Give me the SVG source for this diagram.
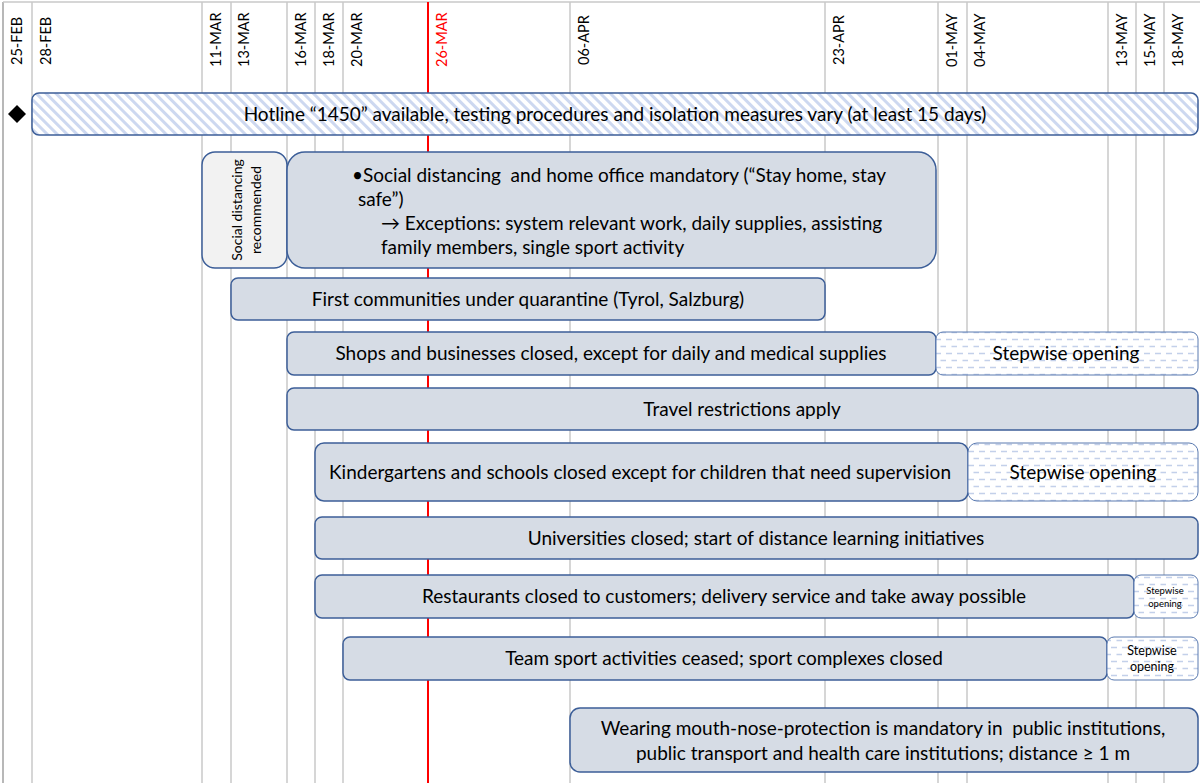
<svg xmlns="http://www.w3.org/2000/svg" width="1200" height="783" viewBox="0 0 1200 783">
<style>
.grid{stroke:#c8c8c8;stroke-width:1.5}
.date{font-family:Lato,"Liberation Sans",sans-serif;font-size:14.5px;fill:#000}
.box{fill:#d6dce5;stroke:#3c5e98;stroke-width:1.5}
.lbl{font-family:Lato,"Liberation Sans",sans-serif;font-size:19px;fill:#000;text-anchor:middle}
.hatch{fill:url(#hatch);stroke:#3c5e98;stroke-width:1.5}
.dash{fill:url(#dashes);stroke:#5a7ab0;stroke-width:1}
.sm{font-family:Lato,"Liberation Sans",sans-serif;text-anchor:middle;fill:#000}
</style>
<defs>
<pattern id="hatch" width="7" height="7" patternUnits="userSpaceOnUse" patternTransform="rotate(-45)">
<rect width="7" height="7" fill="#ffffff"/>
<rect width="3" height="7" fill="#cdd8f0"/>
</pattern>
<pattern id="dashes" width="11" height="14" patternUnits="userSpaceOnUse">
<rect width="11" height="14" fill="#ffffff"/>
<line x1="0" y1="3.5" x2="6" y2="3.5" stroke="#c3d0ea" stroke-width="1.5"/>
<line x1="5.5" y1="10.5" x2="11" y2="10.5" stroke="#c3d0ea" stroke-width="1.5"/>
</pattern>
</defs>
<rect x="0" y="0" width="1200" height="783" fill="#ffffff"/>
<g id="grid">
<line x1="3" y1="2" x2="3" y2="783" stroke="#a0a0a0" stroke-width="1.5"/>
<line x1="3" y1="2" x2="1200" y2="2" class="grid"/>
<line x1="32" y1="2" x2="32" y2="783" class="grid"/>
<line x1="202" y1="2" x2="202" y2="783" class="grid"/>
<line x1="231" y1="2" x2="231" y2="783" class="grid"/>
<line x1="287" y1="2" x2="287" y2="783" class="grid"/>
<line x1="315" y1="2" x2="315" y2="783" class="grid"/>
<line x1="343" y1="2" x2="343" y2="783" class="grid"/>
<line x1="570" y1="2" x2="570" y2="783" class="grid"/>
<line x1="825" y1="2" x2="825" y2="783" class="grid"/>
<line x1="938" y1="2" x2="938" y2="783" class="grid"/>
<line x1="967" y1="2" x2="967" y2="783" class="grid"/>
<line x1="1108" y1="2" x2="1108" y2="783" class="grid"/>
<line x1="1136" y1="2" x2="1136" y2="783" class="grid"/>
<line x1="1164" y1="2" x2="1164" y2="783" class="grid"/>
<line x1="428" y1="2" x2="428" y2="783" stroke="#ff0000" stroke-width="2"/>
</g>
<g id="dates">
<text class="date" transform="translate(22,65) rotate(-90)">25-FEB</text>
<text class="date" transform="translate(51,65) rotate(-90)">28-FEB</text>
<text class="date" transform="translate(221,67) rotate(-90)">11-MAR</text>
<text class="date" transform="translate(249,67) rotate(-90)">13-MAR</text>
<text class="date" transform="translate(306,67) rotate(-90)">16-MAR</text>
<text class="date" transform="translate(334,67) rotate(-90)">18-MAR</text>
<text class="date" transform="translate(362,67) rotate(-90)">20-MAR</text>
<text class="date" transform="translate(447,67) rotate(-90)" style="fill:#ff0000">26-MAR</text>
<text class="date" transform="translate(589,65) rotate(-90)">06-APR</text>
<text class="date" transform="translate(844,65) rotate(-90)">23-APR</text>
<text class="date" transform="translate(957,67) rotate(-90)">01-MAY</text>
<text class="date" transform="translate(985,67) rotate(-90)">04-MAY</text>
<text class="date" transform="translate(1127,67) rotate(-90)">13-MAY</text>
<text class="date" transform="translate(1155,67) rotate(-90)">15-MAY</text>
<text class="date" transform="translate(1183,67) rotate(-90)">18-MAY</text>
</g>
<g id="milestone">
<polygon points="17,105 26,114 17,123 8,114" fill="#000"/>
</g>
<g id="hotline">
<rect x="32" y="93" width="1166" height="42" rx="7" class="hatch"/>
<text class="lbl" x="615" y="121">Hotline “1450” available, testing procedures and isolation measures vary (at least 15 days)</text>
</g>
<g id="sd-recommended">
<rect x="202" y="152" width="85" height="116" rx="13" fill="#f2f2f2" stroke="#3c5e98" stroke-width="1.5"/>
<text class="sm" font-size="14" transform="translate(242,210) rotate(-90)">Social distancing</text>
<text class="sm" font-size="14" transform="translate(261,210) rotate(-90)">recommended</text>
</g>
<g id="sd-mandatory">
<rect x="287" y="152" width="649" height="116" rx="18" class="box"/>
<text font-family="Lato,'Liberation Sans',sans-serif" font-size="19" xml:space="preserve">
<tspan x="352" y="182">•Social distancing  and home office mandatory (“Stay home, stay</tspan>
<tspan x="358" y="206">safe”)</tspan>
<tspan x="381" y="230">→ Exceptions: system relevant work, daily supplies, assisting</tspan>
<tspan x="381" y="254">family members, single sport activity</tspan>
</text>
</g>
<g id="quarantine">
<rect x="231" y="278" width="594" height="42" rx="7" class="box"/>
<text class="lbl" x="528" y="306">First communities under quarantine (Tyrol, Salzburg)</text>
</g>
<g id="shops">
<rect x="287" y="332" width="649" height="43" rx="7" class="box"/>
<text class="lbl" x="611" y="360">Shops and businesses closed, except for daily and medical supplies</text>
</g>
<g id="shops-open">
<rect x="936" y="332" width="262" height="43" rx="7" class="dash"/>
<text class="lbl" x="1066" y="360">Stepwise opening</text>
</g>
<g id="travel">
<rect x="287" y="388" width="911" height="42" rx="7" class="box"/>
<text class="lbl" x="742" y="416">Travel restrictions apply</text>
</g>
<g id="schools">
<rect x="315" y="443" width="653" height="58" rx="9" class="box"/>
<text class="lbl" x="640" y="479">Kindergartens and schools closed except for children that need supervision</text>
</g>
<g id="schools-open">
<rect x="968" y="443" width="230" height="58" rx="9" class="dash"/>
<text class="lbl" x="1083" y="479">Stepwise opening</text>
</g>
<g id="universities">
<rect x="315" y="517" width="883" height="42" rx="7" class="box"/>
<text class="lbl" x="756" y="545">Universities closed; start of distance learning initiatives</text>
</g>
<g id="restaurants">
<rect x="315" y="575" width="819" height="43" rx="7" class="box"/>
<text class="lbl" x="724" y="603">Restaurants closed to customers; delivery service and take away possible</text>
</g>
<g id="restaurants-open">
<rect x="1134" y="575" width="64" height="43" rx="7" class="dash"/>
<text class="sm" font-size="9.5" x="1165" y="594">Stepwise</text>
<text class="sm" font-size="9.5" x="1165" y="607">opening</text>
</g>
<g id="sport">
<rect x="343" y="637" width="764" height="43" rx="7" class="box"/>
<text class="lbl" x="724" y="665">Team sport activities ceased; sport complexes closed</text>
</g>
<g id="sport-open">
<rect x="1107" y="637" width="91" height="43" rx="7" class="dash"/>
<text class="sm" font-size="12.5" x="1152" y="655">Stepwise</text>
<text class="sm" font-size="12.5" x="1152" y="671">opening</text>
</g>
<g id="masks">
<rect x="570" y="708" width="628" height="64" rx="10" class="box"/>
<text class="lbl" x="883" y="735" xml:space="preserve">Wearing mouth-nose-protection is mandatory in  public institutions,</text>
<text class="lbl" x="883" y="760">public transport and health care institutions; distance ≥ 1 m</text>
</g>
</svg>
